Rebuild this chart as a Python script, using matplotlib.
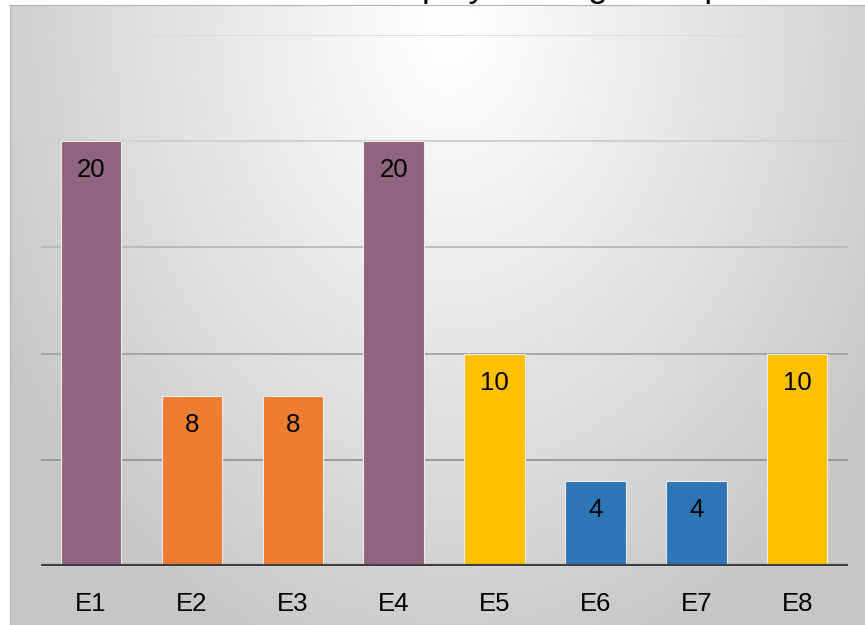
import numpy as np
import matplotlib.pyplot as plt

plt.rcParams['font.family'] = ['Liberation Sans', 'DejaVu Sans']

# datos del gráfico
etiquetas = ['E1', 'E2', 'E3', 'E4', 'E5', 'E6', 'E7', 'E8']
valores = [20, 8, 8, 20, 10, 4, 4, 10]
colores = ['#8E6480', '#ED7D31', '#ED7D31', '#8E6480',
           '#FFC000', '#2E75B6', '#2E75B6', '#FFC000']
marcas_y = [0, 5, 10, 15, 20, 25]
titulo = 'Employees in grades per level'

W, H = 865, 625
fig = plt.figure(figsize=(W / 100, H / 100), dpi=100)
fig.patch.set_facecolor('white')

# título cortado en la parte superior (solo asoman los trazos inferiores)
fig.text(370 / W, 1 + 3 / H, titulo, fontsize=25, va='baseline', ha='left',
         color='black', zorder=0)

# fondo con degradado radial (blanco arriba al centro, gris en los bordes)
fondo = fig.add_axes([10 / W, 0, 1 - 10 / W, 1 - 5 / H], zorder=1)
yy, xx = np.mgrid[0:620, 0:855]
r = np.sqrt(((xx - 440) / 460.0) ** 2 + ((yy - 25) / 600.0) ** 2)
gris = np.clip(255 - 50 * r ** 1.1, 198, 255) / 255.0
fondo.imshow(np.dstack([gris, gris, gris]), aspect='auto', extent=[0, 1, 0, 1])
fondo.set_xlim(0, 1)
fondo.set_ylim(0, 1)
for lado in fondo.spines.values():
    lado.set_visible(False)
fondo.spines['left'].set_visible(True)
fondo.spines['top'].set_visible(True)
fondo.spines['left'].set_color('#b4b4b4')
fondo.spines['top'].set_color('#b4b4b4')
fondo.set_xticks([])
fondo.set_yticks([])

ax = fig.add_axes([40.6 / W, 59 / H, 807 / W, 531 / H], zorder=2)
ax.patch.set_alpha(0)
x = np.arange(len(etiquetas))

tonos_rejilla = ['#dadada', '#cfcfcf', '#b8b8b8', '#a2a2a2', '#969696']
for yv, tono in zip(marcas_y[1:][::-1], tonos_rejilla):
    ax.axhline(yv, color=tono, lw=1.3, zorder=1)

barras = ax.bar(x, valores, width=0.6, color=colores,
                edgecolor='#f4ece4', linewidth=0.8, zorder=2)
for b, v in zip(barras, valores):
    ax.annotate(str(v), (b.get_x() + b.get_width() / 2, v),
                xytext=(0, -21), textcoords='offset points',
                ha='center', va='center', fontsize=18.5, color='black', zorder=3)

ax.axhline(0, color='#404040', lw=3, zorder=4)
ax.set_xlim(-0.5, len(etiquetas) - 0.5)
ax.set_ylim(0, 25)
ax.set_yticks(marcas_y)
ax.set_yticklabels([])
ax.set_xticks(x)
ax.set_xticklabels(etiquetas, fontsize=18.5)
ax.tick_params(length=0, pad=19)
for lado in ax.spines.values():
    lado.set_visible(False)

fig.savefig('out.png', dpi=100)
